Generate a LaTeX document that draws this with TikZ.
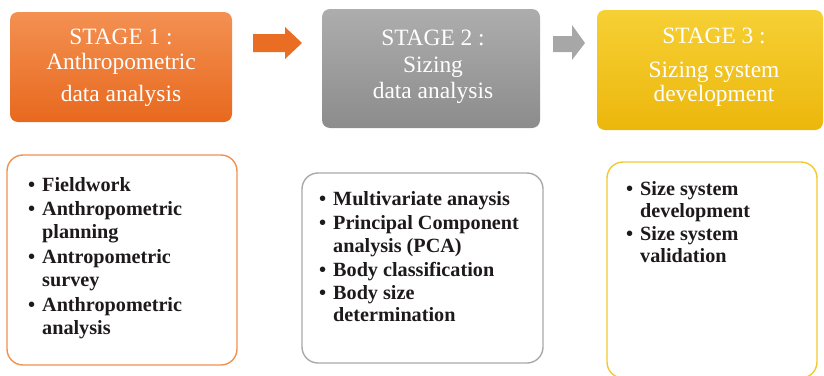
\documentclass[tikz,border=0pt]{standalone}
\usepackage{fontspec}
\setmainfont{Liberation Serif}
\usetikzlibrary{shapes.misc}
\definecolor{orA}{HTML}{F39052}
\definecolor{orB}{HTML}{E8691E}
\definecolor{grA}{HTML}{ADADAD}
\definecolor{grB}{HTML}{8C8C8C}
\definecolor{yeA}{HTML}{F6D035}
\definecolor{yeB}{HTML}{ECB70C}
\definecolor{orLine}{HTML}{F0924F}
\definecolor{grLine}{HTML}{A9A9A9}
\definecolor{yeLine}{HTML}{F3C92E}
\definecolor{txt}{HTML}{1E1A1B}
\tikzset{
  stagebox/.style={rounded corners=8pt, draw=none},
  listbox/.style={rounded corners=16pt, line width=1.4pt, fill=white},
  stagetext/.style={text=white, align=center, inner sep=0pt, font=\fontsize{23.4}{26}\selectfont},
  listtext/.style={text=txt, inner sep=0pt, anchor=base west, font=\fontsize{20.2}{22.5}\selectfont\bfseries},
}
\newcommand{\bul}{\textbullet}
\begin{document}
\begin{tikzpicture}[x=1pt,y=-1pt]
\useasboundingbox (0,0) rectangle (824,375);
% stage boxes
\shade[stagebox, top color=orA, bottom color=orB] (10,12) rectangle (232,122);
\shade[stagebox, top color=grA, bottom color=grB] (322,9) rectangle (540,128);
\shade[stagebox, top color=yeA, bottom color=yeB] (597,10) rectangle (823,130);
\node[stagetext] (s1) at (121,68) {STAGE 1 :\\[-1pt] Anthropometric\\[6pt] data analysis};
\node[stagetext] (s2) at (433,67) {STAGE 2 :\\[1pt] Sizing\\[0pt] data analysis};
\node[stagetext] (s3) at (714,67) {STAGE 3 :\\[8pt] Sizing system\\[-2pt] development};
% block arrows
\fill[orB!90!orA] (253,34) -- (285,34) -- (285,27) -- (302,43) -- (285,59) -- (285,52) -- (253,52) -- cycle;
\fill[grA!80!grB] (553,36) -- (572,36) -- (572,25) -- (585,43) -- (572,60) -- (572,52) -- (553,52) -- cycle;
% list boxes
\draw[listbox, draw=orLine] (7,155) rectangle (237,365);
\draw[listbox, draw=grLine] (302,173) rectangle (543,363);
\draw[listbox, draw=yeLine] (607,162) rectangle (817,378);
\node[listtext] (l1) at (28,191) {\begin{tabular}[t]{@{}p{14pt}@{}l@{}}
\bul & Fieldwork\\[2pt]
\bul & Anthropometric\\
 & planning\\[3pt]
\bul & Antropometric\\
 & survey\\[3pt]
\bul & Anthropometric\\
 & analysis
\end{tabular}};
\node[listtext] (l2) at (319,205) {\begin{tabular}[t]{@{}p{14pt}@{}l@{}}
\bul & Multivariate anaysis\\[2pt]
\bul & Principal Component\\
 & analysis (PCA)\\[2pt]
\bul & Body classification\\[0pt]
\bul & Body size\\
 & determination
\end{tabular}};
\node[listtext] (l3) at (626,195) {\begin{tabular}[t]{@{}p{14pt}@{}l@{}}
\bul & Size system\\
 & development\\[0pt]
\bul & Size system\\
 & validation
\end{tabular}};
\end{tikzpicture}
\end{document}
